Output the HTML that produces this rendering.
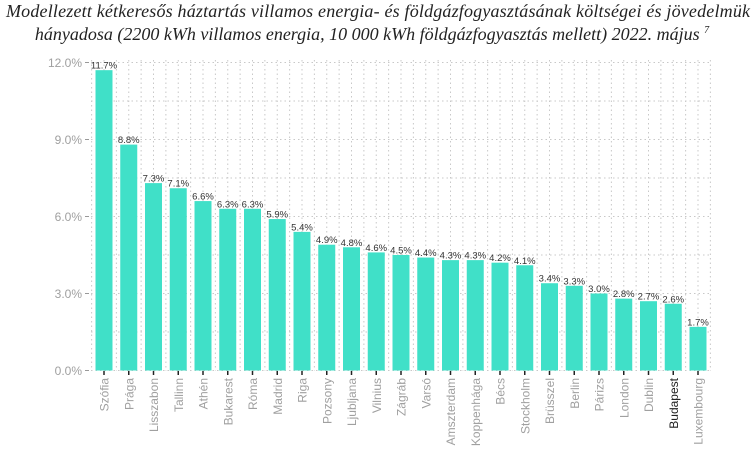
<!DOCTYPE html>
<html><head><meta charset="utf-8"><style>
html,body{margin:0;padding:0;background:#fff;}
svg{display:block;}
</style></head><body>
<svg width="756" height="459" viewBox="0 0 756 459" xmlns="http://www.w3.org/2000/svg">
<text x="378" y="17" text-anchor="middle" font-family="Liberation Serif, serif" font-style="italic" font-size="18" fill="#222" textLength="744">Modellezett kétkeresős háztartás villamos energia- és földgázfogyasztásának költségei és jövedelmük</text>
<text x="372" y="40" text-anchor="middle" font-family="Liberation Serif, serif" font-style="italic" font-size="18" fill="#222">hányadosa (2200 kWh villamos energia, 10 000 kWh földgázfogyasztás mellett) 2022. május <tspan font-size="10" dy="-7">7</tspan></text>
<g id="grid" stroke="#c8c8c8" stroke-width="1" stroke-dasharray="1.5,3"></g>
<g id="bars"></g>
<g font-family="Liberation Sans, sans-serif" font-size="12" fill="#a0a0a0" text-anchor="end">
<text x="82" y="67">12.0%</text>
<text x="82" y="144">9.0%</text>
<text x="82" y="221">6.0%</text>
<text x="82" y="298">3.0%</text>
<text x="82" y="375">0.0%</text>
</g>
<g stroke="#999" stroke-width="1">
<line x1="85" y1="62.5" x2="89" y2="62.5"/><line x1="85" y1="139.5" x2="89" y2="139.5"/><line x1="85" y1="216.5" x2="89" y2="216.5"/><line x1="85" y1="293.5" x2="89" y2="293.5"/><line x1="85" y1="370.5" x2="89" y2="370.5"/>
</g>
<script>
var names=["Szófia","Prága","Lisszabon","Tallinn","Athén","Bukarest","Róma","Madrid","Riga","Pozsony","Ljubljana","Vilnius","Zágráb","Varsó","Amszterdam","Koppenhága","Bécs","Stockholm","Brüsszel","Berlin","Párizs","London","Dublin","Budapest","Luxembourg"];
var vals=[11.7,8.8,7.3,7.1,6.6,6.3,6.3,5.9,5.4,4.9,4.8,4.6,4.5,4.4,4.3,4.3,4.2,4.1,3.4,3.3,3.0,2.8,2.7,2.6,1.7];
var NS="http://www.w3.org/2000/svg";
var g=document.getElementById("grid"),b=document.getElementById("bars");
function el(p,t,a,txt){var e=document.createElementNS(NS,t);for(var k in a)e.setAttribute(k,a[k]);if(txt!==undefined)e.textContent=txt;p.appendChild(e);return e;}
var zero=370.5,sc=25.67,x0=104,dx=24.75;
for(var i=0;i<=8;i++){var y=zero-i*1.5*sc;el(g,"line",{x1:91,x2:711,y1:y,y2:y});}
for(var i=0;i<25;i++){var c=x0+i*dx;el(g,"line",{x1:c,x2:c,y1:60,y2:371});el(g,"line",{x1:c-dx/2,x2:c-dx/2,y1:60,y2:371});}
el(g,"line",{x1:x0+24.5*dx,x2:x0+24.5*dx,y1:60,y2:371});
for(var i=0;i<25;i++){var c=x0+i*dx,h=vals[i]*sc;
el(b,"rect",{x:c-8.5,y:zero-h,width:17,height:h,fill:"#40e0c8"});
el(b,"line",{x1:c,x2:c,y1:371,y2:375,stroke:"#222","stroke-width":1.5});
el(b,"text",{x:c,y:zero-h-1.5,"text-anchor":"middle","font-family":"Liberation Sans, sans-serif","font-size":"9.5","fill":"#333"},vals[i].toFixed(1)+"%");
el(b,"text",{x:0,y:0,transform:"translate("+(c+4.5)+",378) rotate(-90)","text-anchor":"end","font-family":"Liberation Sans, sans-serif","font-size":"12","fill":names[i]=="Budapest"?"#222":"#a0a0a0"},names[i]);
}
</script>
</svg>
</body></html>
